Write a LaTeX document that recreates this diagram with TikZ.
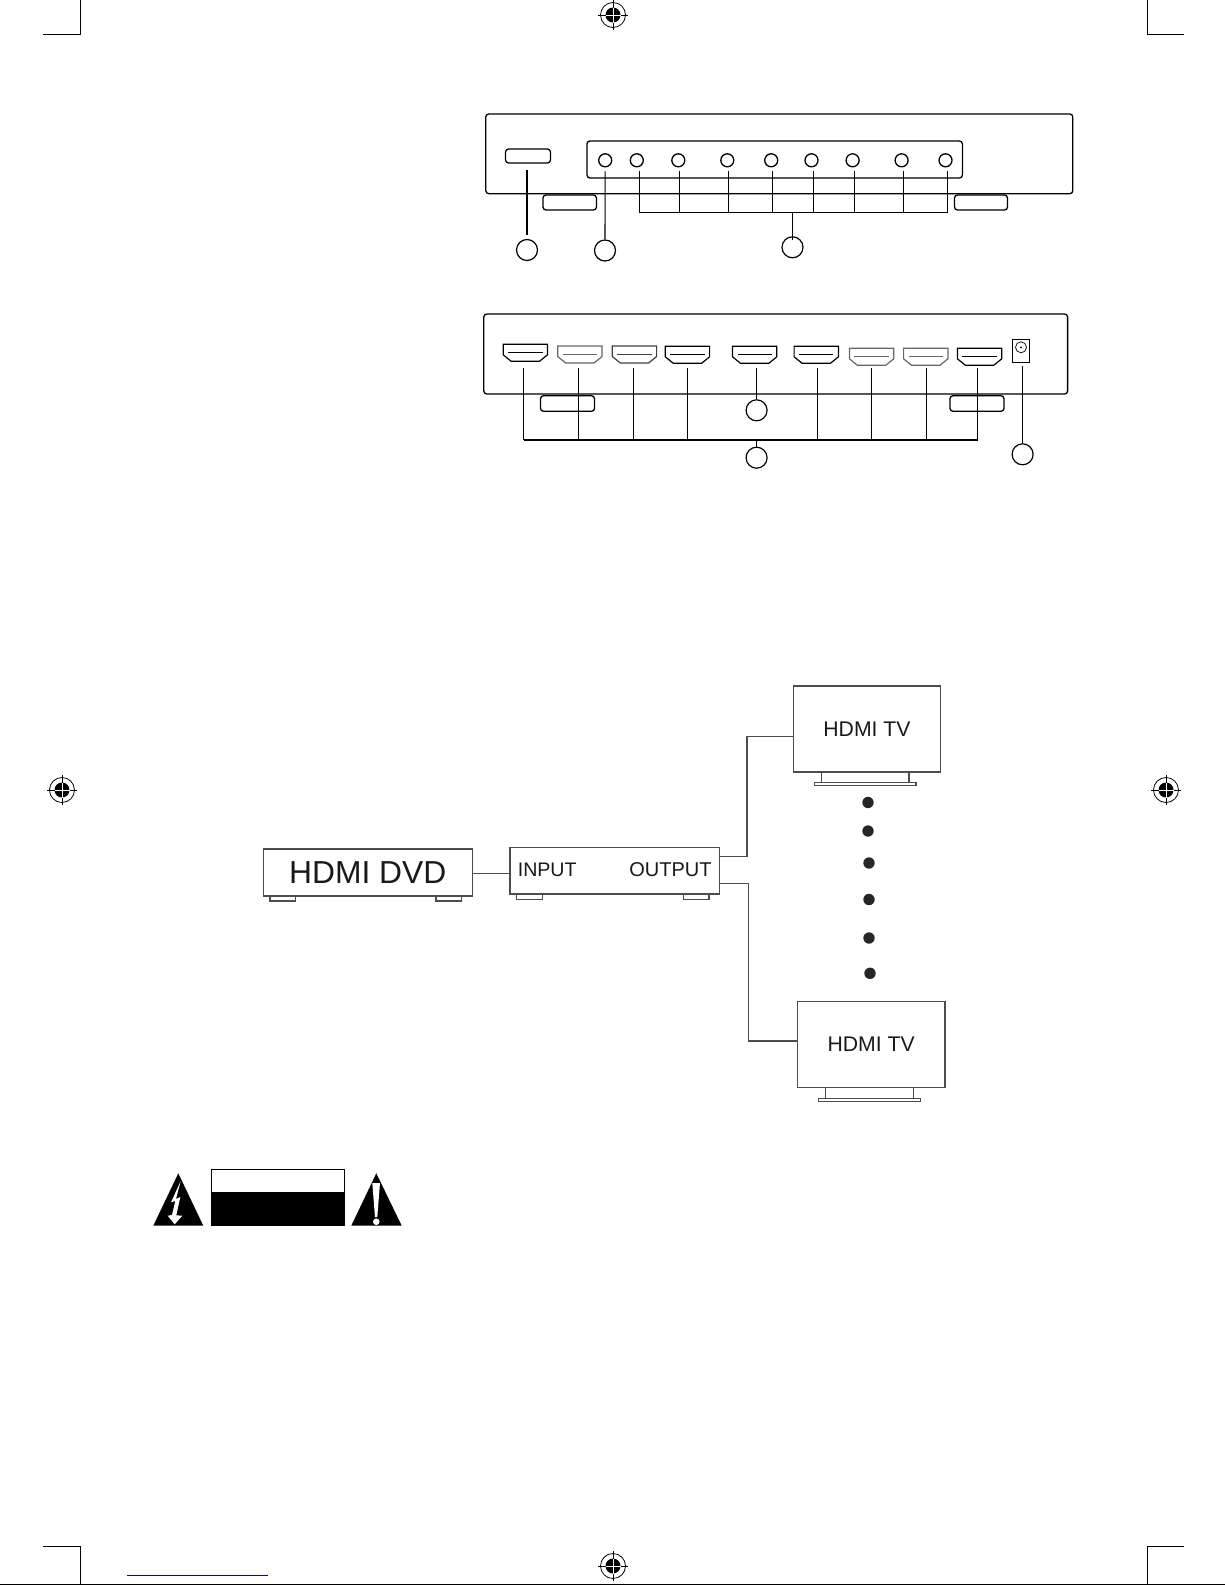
\documentclass[tikz,border=0pt]{standalone}
\usepackage{fontspec}
\setmainfont{Liberation Sans}
\usetikzlibrary{positioning}
\definecolor{txtgray}{gray}{0.1}
\definecolor{linegray}{gray}{0.3}
\definecolor{portgray}{gray}{0.4}
\tikzset{
    devbox/.style={draw=black,line width=1.3pt,rounded corners=3pt,inner sep=0pt},
    numcirc/.style={circle,draw=black,line width=1.2pt,minimum size=21pt,inner sep=0pt},
    ledcirc/.style={circle,draw=black,line width=1.3pt,minimum size=13pt,inner sep=0pt},
    leader/.style={black,line width=1.1pt},
    flatbox/.style={draw=linegray,line width=1.2pt,inner sep=0pt,text=txtgray},
    wire/.style={linegray,line width=1.1pt},
    crop/.style={black,line width=1pt},
}
\begin{document}
\begin{tikzpicture}[x=1pt,y=-1pt]
    \useasboundingbox (0,0) rectangle (1225,1585);
    % crop marks
    \draw[crop] (43,34)--(80,34)--(80,0);
    \draw[crop] (1184,34)--(1147,34)--(1147,0);
    \draw[crop] (43,1546)--(80,1546)--(80,1584);
    \draw[crop] (1184,1546)--(1147,1546)--(1147,1584);
    \draw[crop] (0,1584)--(1225,1584);
    \draw[blue!85!black,line width=1pt] (127,1575)--(268,1575);
    \foreach \x/\y in {613/15,613/1566,62/790,1166/790}
        {
            \fill(\x,\y)circle(7.5);
            \draw[line width=0.8pt](\x,\y)circle(12.5);
            \draw[line width=0.8pt](\x-15,\y)--(\x+15,\y);
            \draw[line width=0.8pt](\x,\y-15)--(\x,\y+15);
            \draw[white,line width=0.4pt](\x-7.5,\y)--(\x+7.5,\y);
            \draw[white,line width=0.4pt](\x,\y-7.5)--(\x,\y+7.5);
        }
    % front panel
    \node[devbox,minimum width=587pt,minimum height=79.7pt] (front) at (779.3,153.8) {};
    \node[devbox,minimum width=45pt,minimum height=14pt] (power) at (528,156) {};
    \node[devbox,minimum width=375.5pt,minimum height=37pt] (panel) at (774.7,159.5) {};
    \node[devbox,minimum width=53.5pt,minimum height=15pt] (foota) at (569.7,202.5) {};
    \node[devbox,minimum width=53pt,minimum height=15pt] (footb) at (981,202.5) {};
    \foreach \x[count=\i] in {605.2,636.8,678.3,727.3,771.2,811.5,852.6,901.6,945.5}
        {\node[ledcirc] (led\i) at (\x,160.3) {};}
    \node[numcirc] (numa) at (527,250) {};
    \node[numcirc] (numb) at (605,250.5) {};
    \node[numcirc] (numc) at (792.5,247.3) {};
    \draw[leader,shorten <=6pt,shorten >=4pt] (power.south-|numa)--(numa);
    \draw[leader,shorten <=4pt] (led1)+(0,7)--(numb.north);
    \coordinate (busa) at (639.2,212.7);
    \coordinate (busb) at (947.5,212.7);
    \draw[leader,line width=1.4pt] (busa)--(busb);
    \foreach \i/\d in {2/2.4,3/1.6,4/1.2,5/1.6,6/2,7/1.6,8/1.6,9/2}
        {\draw[leader,shorten <=4pt] ([xshift=\d pt]led\i.south)--([xshift=\d pt]led\i.south|-busa);}
    \draw[leader] (numc.north|-busa)--([yshift=-4pt]numc.north);
    % rear panel
    \node[devbox,minimum width=583.8pt,minimum height=80pt] (rear) at (775.7,354) {};
    \node[devbox,minimum width=54pt,minimum height=15.6pt] (footc) at (567.5,403.5) {};
    \node[devbox,minimum width=54pt,minimum height=15.6pt] (footd) at (977,403.5) {};
    \coordinate (busc) at (523.8,440);
    \coordinate (busd) at (977.9,440);
    \foreach \x/\y/\c/\d[count=\i] in {503.2/344.3/black/523.8,557.7/346/portgray/578.7,612.3/346/black!75/633.6,665.3/346.3/black/687.8,732.5/346.3/black/756.6,794.1/346.3/black/817.4,849.4/348.3/portgray/871.2,903.6/348.3/portgray/926.5,957.4/348.3/black/977.9}
        {
            \draw[\c,line width=1.2pt](\x,\y)--++(44.3,0)--++(0,10.5)--++(-8,6.5)--++(-28.3,0)--++(-8,-6.5)--cycle;
            \draw[\c,line width=1pt](\x+5,\y+8)--++(34.3,0);
            \coordinate (port\i) at (\d,368);
        }
    \node[draw=black,line width=0.7pt,minimum width=17.4pt,minimum height=23pt,inner sep=0pt] (jack) at (1021,350.8) {};
    \draw[line width=0.7pt] (1021,347.3)circle(5.5);
    \fill (1021,347.3)circle(1);
    \node[numcirc] (numd) at (756.6,410.3) {};
    \node[numcirc] (nume) at (756.6,457.7) {};
    \node[numcirc] (numf) at (1022.6,454.3) {};
    \draw[leader,line width=1.4pt] (busc)--(busd);
    \foreach \i in {1,2,3,4,6,7,8,9}
        {\draw[leader] (port\i)--(port\i|-busc);}
    \draw[leader] (port5)--(numd.north);
    \draw[leader] (nume.north|-busc)--([yshift=-1pt]nume.north);
    \draw[leader] (1022.6,366)--(numf.north);
    % connection
    \node[flatbox,minimum width=209pt,minimum height=47pt,font=\fontsize{31.8}{31.8}\selectfont] (dvd) at (367.8,872.5) {HDMI DVD};
    \node[flatbox,minimum width=25.7pt,minimum height=5pt] (dvdfa) at (282.8,898.5) {};
    \node[flatbox,minimum width=25.7pt,minimum height=5pt] (dvdfb) at (448.8,898.5) {};
    \node[flatbox,minimum width=209.7pt,minimum height=46.7pt] (switch) at (614.8,870.7) {};
    \node[flatbox,minimum width=25.7pt,minimum height=5.3pt] (swfa) at (529.5,896.6) {};
    \node[flatbox,minimum width=25.7pt,minimum height=5.3pt] (swfb) at (696.2,896.6) {};
    \node[text=txtgray,inner sep=0pt,font=\fontsize{19.6}{20}\selectfont,anchor=west] (input) at (517.6,869.6) {INPUT};
    \node[text=txtgray,inner sep=0pt,font=\fontsize{20}{20}\selectfont,anchor=east] (output) at (711.7,869.6) {OUTPUT};
    \node[flatbox,minimum width=147.4pt,minimum height=86pt,font=\fontsize{21.2}{21}\selectfont] (tva) at (867,729) {HDMI TV};
    \node[flatbox,minimum width=87.3pt,minimum height=10.7pt] (tvast) at (865.3,777.4) {};
    \node[flatbox,minimum width=101.7pt,minimum height=3pt] (tvaba) at (865.1,784.2) {};
    \node[flatbox,minimum width=147.6pt,minimum height=86pt,font=\fontsize{21.2}{21}\selectfont] (tvb) at (871.2,1044.5) {HDMI TV};
    \node[flatbox,minimum width=87.3pt,minimum height=10.7pt] (tvbst) at (869.5,1093) {};
    \node[flatbox,minimum width=101.7pt,minimum height=3pt] (tvbba) at (869.3,1099.8) {};
    \coordinate (dvdout) at (dvd.east|-0,873.7);
    \coordinate (swout) at (switch.west|-0,873.7);
    \coordinate (outa) at (switch.east|-0,856.7);
    \coordinate (outb) at (switch.east|-0,883.3);
    \coordinate (ina) at (tva.west|-0,736.7);
    \coordinate (inb) at (tvb.west|-0,1041);
    \draw[wire] (dvdout)--(swout);
    \draw[wire] (outa)--(747,856.7)--(747,736.7)--(ina);
    \draw[wire] (outb)--(748.5,883.3)--(748.5,1041)--(inb);
    \foreach \x/\y in {868/802.5,868/831,869/863,869/899.5,869/938,870/973.3}
        {\fill[black!85](\x,\y)circle(5.7);}
    % warning label
    \fill (178.3,1173.3)--(203.3,1225.7)--(153.3,1225.7)--cycle;
    \draw[line width=1pt] (211.8,1169.8) rectangle (344,1225.7);
    \fill (211.3,1191.7) rectangle (344.3,1225.7);
    \fill (376.3,1173.3)--(401.7,1225.7)--(351.3,1225.7)--cycle;
    \fill[white] (180.7,1181)--(171,1202.3)--(175.3,1201)--(172,1215)--(167.7,1215.7)--(174.7,1224.3)--(182.3,1215.7)--(176.3,1215.3)--(180.3,1197)--(176,1199)--cycle;
    \fill[white] (372.3,1183)--(380,1183)--(377.3,1217)--(375,1217)--cycle;
    \fill[white] (376.3,1221.7)circle(3.3);
\end{tikzpicture}
\end{document}
